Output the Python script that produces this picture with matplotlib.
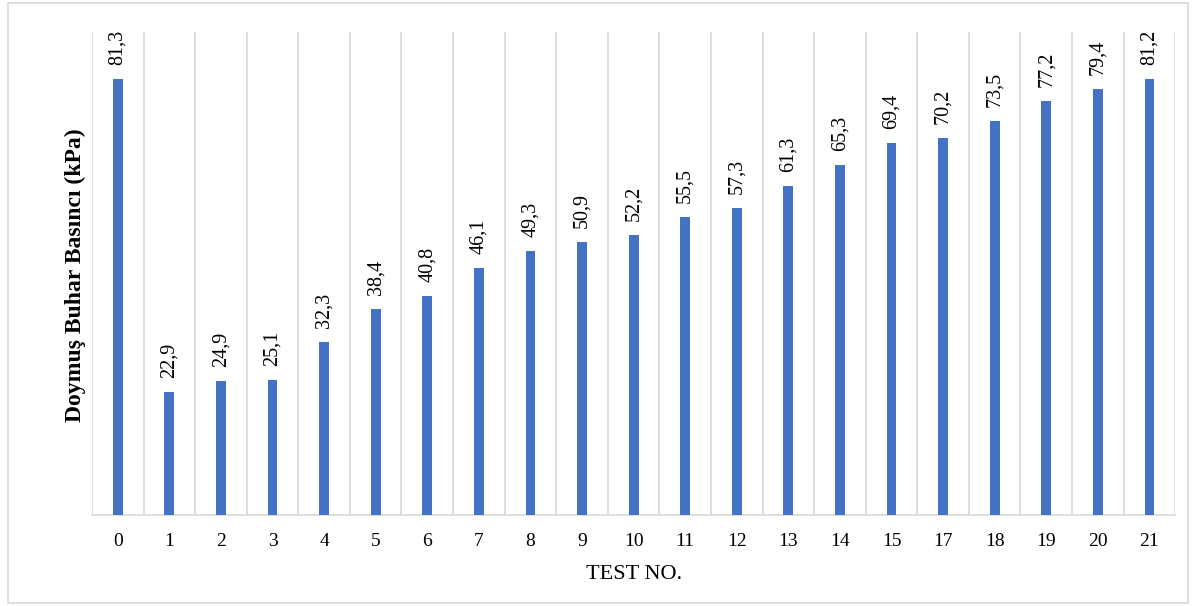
import matplotlib
matplotlib.use("Agg")
import matplotlib.pyplot as plt
from matplotlib.patches import Rectangle

categories = ["0", "1", "2", "3", "4", "5", "6", "7", "8", "9", "10", "11", "12",
              "13", "14", "15", "17", "18", "19", "20", "21"]
values = [81.3, 22.9, 24.9, 25.1, 32.3, 38.4, 40.8, 46.1, 49.3, 50.9, 52.2, 55.5,
          57.3, 61.3, 65.3, 69.4, 70.2, 73.5, 77.2, 79.4, 81.2]
labels = [f"{v:.1f}".replace(".", ",") for v in values]

plt.rcParams['font.family'] = ['Liberation Serif', 'DejaVu Serif']

fig = plt.figure(figsize=(11.93, 6.06), dpi=100)
ax = fig.add_axes([0.0771, 0.150, 0.908, 0.797])

x = list(range(len(categories)))
ax.bar(x, values, width=0.19, color="#4472C4", zorder=3)
for xi, v, lab in zip(x, values, labels):
    ax.annotate(lab, (xi, v), xytext=(0, 14), textcoords="offset pixels",
                rotation=90, ha="center", va="bottom", fontsize=14.5, color="#000000")

ax.set_xlim(-0.5, len(categories) - 0.5)
ax.set_ylim(0, 90)
ax.set_xticks(x)
ax.set_xticklabels(categories, fontsize=14)
ax.tick_params(axis="x", length=0, pad=13)
ax.set_yticks([])
for i in range(len(categories) + 1):
    ax.axvline(i - 0.5, color="#d9d9d9", lw=1.2, zorder=1)
for s in ["top", "left", "right"]:
    ax.spines[s].set_visible(False)
ax.spines["bottom"].set_color("#d9d9d9")
ax.spines["bottom"].set_linewidth(1.2)

ax.set_xlabel("TEST NO.", fontsize=16, labelpad=11)
fig.text(0.063, 0.546, "Doymuş Buhar Basıncı (kPa)", rotation=90, ha="center", va="center",
         fontsize=17, fontweight="bold")

fig.patches.append(Rectangle((8 / 1193, 3 / 606), 1180 / 1193, 600 / 606, transform=fig.transFigure,
                             fill=False, edgecolor="#d9d9d9", lw=1.2))

fig.savefig("out.png", dpi=100, facecolor="white")
